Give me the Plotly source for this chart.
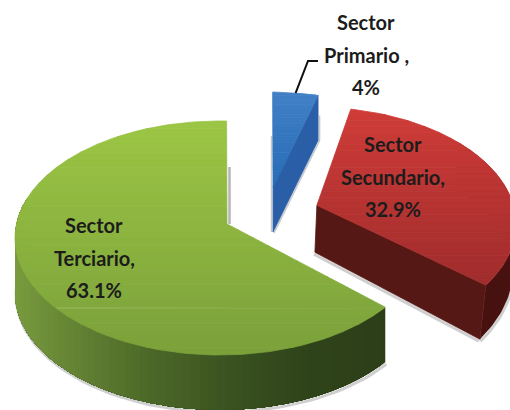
import numpy as np
import plotly.graph_objects as go

# ---- data ----
categories = ["Sector Primario", "Sector Secundario", "Sector Terciario"]
values = [4.0, 32.9, 63.1]
label_lines = [["Sector", "Primario ,", "4%"],
               ["Sector", "Secundario,", "32.9%"],
               ["Sector", "Terciario,", "63.1%"]]

# ---- view of each exploded slice (ellipse, perspective, wall depth) ----
VIEW = [
    dict(cx=266, cy=200, rx=207, ry=108, p=(0.034, -0.12), rot=0, depth=(45, 45), dx=(0, 0)),
    dict(cx=312, cy=224, rx=204, ry=117, p=(0.024, -0.16), rot=-3, depth=(47, 54), dx=(-2, -6)),
    dict(cx=220, cy=238, rx=205, ry=117, p=(0.034, -0.12), rot=0, depth=(55, 55), dx=(2, 0)),
]
TOP_COL = [((66, 128, 198), (38, 108, 182)),
           ((207, 60, 56), (160, 44, 44)),
           ((156, 198, 68), (122, 160, 58))]
TEXT_POS = [(366, 22), (393, 144), (94, 225)]
LINE_GAP = 32.5


def project(theta_deg, r, v):
    """Perspective map of a pie-plane point to picture coordinates."""
    t = np.radians(np.asarray(theta_deg, float) + v["rot"])
    r = np.broadcast_to(r, t.shape)
    vx, vy = r * np.sin(t), -r * np.cos(t)
    px, py = v["p"]
    n2 = px * px + py * py
    d = (px * vx + py * vy)
    s = np.sqrt(1 - n2)
    parx, pary = d * px / n2, d * py / n2
    ox = (px + parx + s * (vx - parx)) / (1 + d)
    oy = (py + pary + s * (vy - pary)) / (1 + d)
    return v["cx"] + v["rx"] * ox, v["cy"] + v["ry"] * oy


def clip_y(poly, y0, y1):
    def clip(pts, keep, cut):
        out = []
        for i in range(len(pts)):
            a, b = pts[i], pts[(i + 1) % len(pts)]
            ka, kb = keep(a), keep(b)
            if ka:
                out.append(a)
            if ka != kb:
                f = (cut - a[1]) / (b[1] - a[1])
                out.append((a[0] + f * (b[0] - a[0]), cut))
        return out
    pts = clip(poly, lambda q: q[1] >= y0, y0)
    if pts:
        pts = clip(pts, lambda q: q[1] <= y1, y1)
    return pts


def rgb(c):
    return "rgb(%d,%d,%d)" % tuple(int(round(x)) for x in c)


fig = go.Figure()


def poly(xs, ys, color, lw=0.8):
    xs, ys = list(xs), list(ys)
    fig.add_trace(go.Scatter(x=xs + xs[:1], y=ys + ys[:1], mode="lines", fill="toself",
                             fillcolor=color, line=dict(color=color, width=lw),
                             hoverinfo="skip", showlegend=False))


def line(xs, ys, color, w):
    fig.add_trace(go.Scatter(x=list(xs), y=list(ys), mode="lines", line=dict(color=color, width=w),
                             hoverinfo="skip", showlegend=False))


def lower(x, y, v, ymin, ymax):
    f = np.clip((np.asarray(y, float) - ymin) / (ymax - ymin), 0, 1)
    return x + v["dx"][0] + f * (v["dx"][1] - v["dx"][0]), y + v["depth"][0] + f * (v["depth"][1] - v["depth"][0])


# slice angles, clockwise from 12 o'clock
edges = np.concatenate([[0], np.cumsum(values)]) * 3.6
spans = list(zip(edges[:-1], edges[1:]))

# ---------- Terciario walls: overlapping strips painted from the far end, no seams ----------
v = VIEW[2]
a0, a1 = spans[2]
th = np.linspace(a0, 282, 70)
ax, ay = project(th, 1.0, v)
bx, by = ax + 0, ay + 55
line(bx + 1, by + 2, "#cfcfcf", 3)
line([229.5, 229.5], [167, 224], "#b5b5b5", 2.5)
wall_x = [13, 50, 100, 150, 230, 300, 385]
wall_c = [(122, 156, 62), (108, 140, 56), (92, 122, 48), (76, 104, 40), (58, 82, 32), (48, 68, 26), (44, 62, 24)]
for i in range(len(th) - 1):
    xm = (ax[i] + ax[i + 1]) / 2
    c = [np.interp(xm, wall_x, [q[k] for q in wall_c]) for k in range(3)]
    # each strip runs on to the far end of the wall, the next one paints over it
    sx = list(ax[i:]) + list(bx[i:][::-1])
    sy = list(ay[i:]) + list(by[i:][::-1])
    poly(sx, sy, rgb(c), lw=0)

# ---------- Secundario walls ----------
v = VIEW[1]
a0, a1 = spans[1]
th = np.linspace(a0 + 40, a1, 60)
ax, ay = project(th, 1.0, v)
apx, apy = project([a0], 0.0, v)
bx, by = lower(ax, ay, v, apy[0], ay[-1])
line(list(bx + 0.5), list(by + 2), "#cfcfcf", 3)
poly(list(ax) + list(bx[::-1]), list(ay) + list(by[::-1]), "#47110f", lw=0)
cx_, cy_ = project([a1], 1.0, v)
qx = np.array([apx[0], cx_[0]])
qy = np.array([apy[0], cy_[0]])
lx, ly = lower(qx, qy, v, apy[0], cy_[0])
line([lx[0] - 1, lx[1] - 1], [ly[0] + 2, ly[1] + 2], "#cfcfcf", 3)
poly([qx[0], qx[1], lx[1], lx[0]], [qy[0], qy[1], ly[1], ly[0]], "#561814")

# ---------- Primario wall ----------
v = VIEW[0]
a0, a1 = spans[0]
qx, qy = project([a0, a1], [0.0, 1.0], v)
line([271.5, 271.5], [136, 232], "#c8c8c8", 1.5)
line([qx[1] + 1.5, qx[1] + 1.5, qx[0] + 1], [qy[1] + 20, qy[1] + 45, qy[0] + 46], "#c8c8c8", 1.5)
lx, ly = lower(qx, qy, v, qy[1], qy[0])
poly([qx[0], qx[1], lx[1], lx[0]], [qy[0], qy[1], ly[1], ly[0]], "#2a5fa8")

# ---------- top faces, shaded in horizontal bands ----------
for idx, (a0, a1) in enumerate(spans):
    v = VIEW[idx]
    th = np.linspace(a0, a1, max(8, int(a1 - a0)))
    ex, ey = project(th, 1.0, v)
    ox, oy = project([a0], 0.0, v)
    pts = [(ox[0], oy[0])] + list(zip(ex, ey))
    ys = [q[1] for q in pts]
    lo, hi = min(ys), max(ys)
    n = 30
    grid = np.linspace(lo, hi, n + 1)
    c0, c1 = TOP_COL[idx]
    for k in range(n):
        part = clip_y(pts, grid[k], grid[k + 1])
        if len(part) < 3:
            continue
        f = (k + 0.5) / n
        col = [c0[j] + f * (c1[j] - c0[j]) for j in range(3)]
        poly([q[0] for q in part], [q[1] for q in part], rgb(col))

# ---------- leader line for the small slice ----------
lead = project([values[0] * 1.8], 1.0, VIEW[0])
line([lead[0][0], 308, 318], [lead[1][0], 61, 61], "#111111", 2)

# ---------- labels ----------
FONT = dict(family="Lato", size=20, color="#1c1c1c")
ann = []
for lines_, (x0, y0) in zip(label_lines, TEXT_POS):
    for i, t in enumerate(lines_):
        ann.append(dict(x=x0, y=y0 + i * LINE_GAP, text="<b>%s</b>" % t, showarrow=False, xanchor="center",
                        yanchor="middle", xref="x", yref="y", font=FONT))
ann.append(dict(x=75, y=-6, text="p", showarrow=False, xanchor="center", yanchor="middle",
                xref="x", yref="y", font=FONT))

fig.update_layout(
    width=510, height=410, margin=dict(l=0, r=0, t=0, b=0),
    paper_bgcolor="white", plot_bgcolor="white", showlegend=False, annotations=ann,
    xaxis=dict(range=[0, 510], visible=False, fixedrange=True),
    yaxis=dict(range=[410, 0], visible=False, fixedrange=True),
)
fig.write_html("out.html", config={"displayModeBar": False},
               post_script="document.body.style.margin='0';")
